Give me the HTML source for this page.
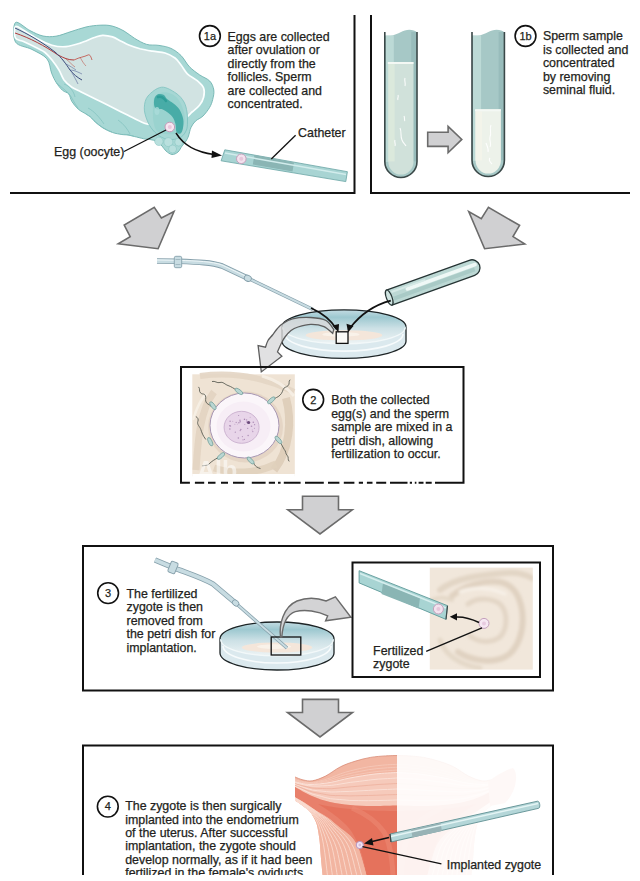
<!DOCTYPE html>
<html><head><meta charset="utf-8"><style>
html,body{margin:0;padding:0;background:#fff;width:640px;height:881px;overflow:hidden}
svg{position:absolute;left:0;top:0;display:block}
text{font-family:"Liberation Sans",sans-serif;font-size:12.4px;fill:#231f20;stroke:#231f20;stroke-width:0.25px}
.num{font-size:11px}
</style></head><body>
<svg width="640" height="881" viewBox="0 0 640 881">
<defs>
</defs>
<!-- ILLUSTRATIONS -->
<g id="ill">
<path d="M15.5 22.5C17.9 20.6 25.4 28.4 30.0 30.6C34.6 32.9 38.7 35.1 43.0 36.0C47.3 36.9 51.3 36.9 56.0 36.2C60.7 35.5 66.0 33.1 71.0 31.6C76.0 30.1 81.2 28.1 86.0 27.0C90.8 25.9 95.7 25.4 100.0 25.2C104.3 25.0 108.0 25.0 112.0 26.0C116.0 27.0 120.2 28.9 124.0 31.0C127.8 33.0 130.7 36.1 134.5 38.3C138.3 40.5 142.6 43.2 146.7 44.4C150.8 45.6 154.9 44.7 159.0 45.4C163.1 46.1 167.3 46.7 171.0 48.4C174.7 50.1 177.9 52.5 181.0 55.5C184.1 58.5 186.3 63.5 189.4 66.7C192.5 69.9 196.1 72.4 199.5 74.8C202.9 77.2 207.3 78.5 209.7 81.0C212.1 83.5 213.3 86.9 213.8 90.0C214.3 93.1 213.4 96.6 212.7 99.5C212.0 102.4 211.3 104.5 209.7 107.3C208.1 110.0 205.3 113.7 203.0 116.0C200.7 118.3 197.6 119.1 195.6 121.0C193.6 122.9 192.2 125.0 191.0 127.5C189.8 130.0 189.3 133.8 188.5 136.0C187.7 138.2 187.1 139.3 186.0 141.0C184.9 142.7 183.3 144.2 182.0 146.0C180.7 147.8 179.7 150.6 178.0 152.0C176.3 153.4 174.0 154.7 172.0 154.5C170.0 154.3 167.7 152.4 166.0 151.0C164.3 149.6 163.5 147.6 162.0 146.0C160.5 144.4 159.0 142.6 157.0 141.5C155.0 140.4 152.2 140.0 150.0 139.5C147.8 139.0 146.3 139.2 143.8 138.8C141.2 138.2 137.0 137.1 134.4 136.5C131.8 135.9 130.1 135.3 128.0 135.0C125.9 134.7 124.5 134.9 121.9 134.5C119.3 134.1 115.7 133.6 112.5 132.5C109.3 131.4 105.9 129.8 103.0 128.0C100.1 126.2 97.4 123.8 95.3 122.0C93.2 120.2 92.1 118.3 90.6 117.0C89.0 115.7 88.1 115.3 86.0 114.0C83.9 112.7 80.4 111.1 78.1 109.0C75.8 106.9 73.5 104.0 71.9 101.5C70.3 99.0 70.3 95.9 68.8 94.0C67.2 92.1 64.6 92.2 62.5 90.3C60.4 88.4 58.1 85.4 56.2 82.5C54.4 79.6 53.2 77.1 51.6 73.1C50.0 69.1 50.2 62.7 46.9 58.8C43.6 54.8 37.1 52.2 31.9 49.4C26.7 46.6 18.2 46.5 15.5 42.0C12.8 37.5 13.1 24.4 15.5 22.5Z" fill="#a8d8d5" stroke="#6fb3b0" stroke-width="0.9"/>
<path d="M56 82.5 C60 86 64 89 68.7 93.5" fill="none" stroke="#7fc0bd" stroke-width="0.7"/>
<path d="M68.7 93.5 C72 97 74 103 78 108" fill="none" stroke="#7fc0bd" stroke-width="0.7"/>
<path d="M86 114 C89 116 92 118 95.3 122" fill="none" stroke="#7fc0bd" stroke-width="0.7"/>
<path d="M95.3 122 C99 125 104 129 112 132" fill="none" stroke="#7fc0bd" stroke-width="0.7"/>
<path d="M121.9 134.5 C126 134 130 135 134.4 136.5" fill="none" stroke="#7fc0bd" stroke-width="0.7"/>
<path d="M64 84 C70 86 74 92 75 97" fill="none" stroke="#7fc0bd" stroke-width="0.7"/>
<path d="M88 108 C94 111 100 118 104 124" fill="none" stroke="#7fc0bd" stroke-width="0.7"/>
<path d="M118 120 C124 124 128 130 130 134" fill="none" stroke="#7fc0bd" stroke-width="0.7"/>
<path d="M15.5 26.5C16.9 25.2 20.2 28.4 24.0 30.5C27.8 32.6 33.3 36.5 38.0 39.0C42.7 41.5 47.3 43.9 52.0 45.2C56.7 46.5 61.3 47.0 66.0 46.6C70.7 46.2 75.6 44.6 80.3 43.1C85.0 41.6 90.7 38.8 94.4 37.5C98.1 36.2 99.5 35.4 102.5 35.3C105.5 35.2 109.4 35.9 112.5 36.9C115.6 37.9 118.5 39.9 121.2 41.2C124.0 42.6 125.6 43.8 128.8 45.0C131.9 46.2 136.0 47.7 140.0 48.8C144.0 49.8 148.3 50.5 152.5 51.2C156.7 52.0 161.2 51.9 165.0 53.0C168.8 54.1 172.3 56.0 175.0 58.0C177.7 60.0 178.9 62.4 181.0 65.0C183.1 67.6 184.6 71.1 187.3 73.8C190.1 76.5 194.8 78.5 197.5 80.9C200.2 83.3 202.6 85.3 203.6 88.0C204.6 90.7 204.3 94.3 203.6 97.2C202.9 100.1 201.4 102.8 199.5 105.3C197.6 107.8 194.4 109.9 192.0 112.0C189.6 114.1 188.7 116.3 185.0 118.0C181.3 119.7 175.5 120.9 170.0 122.0C164.5 123.1 156.4 124.3 152.0 124.5C147.6 124.7 147.8 124.5 143.8 123.0C139.8 121.5 133.2 117.9 128.0 115.3C122.8 112.7 117.7 110.1 112.5 107.5C107.3 104.9 102.1 102.3 96.9 99.7C91.7 97.1 85.4 94.0 81.2 91.9C77.1 89.8 74.8 89.2 71.9 87.2C69.0 85.2 66.2 82.9 64.0 80.0C61.9 77.1 61.0 73.3 59.0 70.0C57.0 66.7 54.3 62.9 52.0 60.0C49.7 57.1 47.3 54.4 45.0 52.5C42.7 50.6 41.5 50.3 38.0 48.5C34.5 46.7 27.8 43.4 24.0 41.7C20.2 40.0 16.9 40.7 15.5 38.2C14.1 35.7 14.1 27.8 15.5 26.5Z" fill="#d1e3e2" stroke="#fbffff" stroke-width="1.7"/>
<path d="M161.5 87.2C166.2 86.7 172.2 90.7 176.0 93.2C179.8 95.7 182.2 98.9 184.0 102.0C185.8 105.1 186.4 108.7 187.0 112.0C187.6 115.3 187.6 119.0 187.5 122.0C187.4 125.0 187.5 127.6 186.4 130.1C185.3 132.6 183.6 135.4 181.2 137.0C178.8 138.6 175.2 139.4 172.0 139.5C168.8 139.6 165.2 139.1 162.0 137.5C158.8 135.9 155.4 133.0 152.9 130.1C150.4 127.2 148.4 123.7 147.0 120.0C145.6 116.3 144.1 111.8 144.3 107.8C144.5 103.8 145.1 99.4 148.0 96.0C150.9 92.6 156.8 87.7 161.5 87.2Z" fill="#a6d7d4" stroke="#7dc2bf" stroke-width="0.8"/>
<path d="M165.8 92.3C168.6 92.6 172.5 94.0 175.0 96.0C177.5 98.0 179.4 100.6 181.0 104.0C182.6 107.4 184.4 112.6 184.7 116.4C185.0 120.2 184.4 124.2 183.0 127.0C181.6 129.8 178.8 132.3 176.0 133.5C173.2 134.7 169.2 134.4 166.0 134.0C162.8 133.6 159.1 133.0 157.0 131.0C154.9 129.0 154.2 125.5 153.5 122.0C152.8 118.5 152.9 113.7 152.9 110.0C152.9 106.3 152.7 102.7 153.5 100.0C154.3 97.3 155.9 95.3 158.0 94.0C160.1 92.7 163.0 92.0 165.8 92.3Z" fill="#9ad3cf"/>
<path d="M157.5 94.5C159.0 93.8 161.9 94.0 163.5 94.8C165.1 95.5 165.3 97.5 167.0 99.0C168.7 100.5 171.4 101.8 173.5 103.5C175.6 105.2 177.9 106.9 179.5 109.5C181.1 112.1 182.6 115.9 183.2 119.0C183.8 122.1 183.4 125.6 183.0 128.0C182.6 130.4 181.6 132.8 180.5 133.5C179.4 134.2 177.3 133.6 176.5 132.0C175.7 130.4 176.2 126.5 175.5 124.0C174.8 121.5 173.9 119.0 172.5 117.0C171.1 115.0 168.8 113.3 167.0 112.0C165.2 110.7 163.2 109.4 161.5 109.0C159.8 108.6 158.2 110.0 157.0 109.5C155.8 109.0 154.8 107.8 154.3 106.0C153.9 104.2 153.8 100.9 154.3 99.0C154.8 97.1 156.0 95.2 157.5 94.5Z" fill="#48aca7"/>
<path d="M158 97 C161 96 164 98 166 101" fill="none" stroke="#2f9e98" stroke-width="2.5" stroke-linecap="round"/>
<ellipse cx="157" cy="111" rx="2.5" ry="4" fill="#aadcd9" opacity="0.8"/>
<circle cx="158.9" cy="141.3" r="4.2" fill="#b9e0de" stroke="#8cc6c3" stroke-width="0.6"/>
<circle cx="168.4" cy="142.1" r="4.5" fill="#b9e0de" stroke="#8cc6c3" stroke-width="0.6"/>
<circle cx="178.7" cy="142.1" r="4" fill="#b9e0de" stroke="#8cc6c3" stroke-width="0.6"/>
<circle cx="172.6" cy="149" r="4" fill="#b9e0de" stroke="#8cc6c3" stroke-width="0.6"/>
<path d="M15 33 C30 38 45 46 58 55 C64 58 68 60 74 60" fill="none" stroke="#b03a3a" stroke-width="1"/>
<path d="M74 60 C80 57 84 57 88 55 C90 54 91 57 92 60" fill="none" stroke="#c04a40" stroke-width="0.8"/>
<path d="M80 57 C82 61 84 64 86 66 M66 59 C70 62 72 65 75 67" fill="none" stroke="#c05a50" stroke-width="0.6"/>
<path d="M15 28 C28 34 42 42 55 52 C62 58 66 64 70 70 C73 74 78 78 82 80" fill="none" stroke="#3a4a7a" stroke-width="1"/>
<path d="M70 70 C74 70 78 72 82 74 M72 73 C74 76 76 80 78 84 M66 64 C70 66 73 68 76 70" fill="none" stroke="#5a6a9a" stroke-width="0.6"/>
<circle cx="169.8" cy="127" r="4.8" fill="#f7e6f0" stroke="#c49ab8" stroke-width="1"/>
<circle cx="169.8" cy="127" r="2" fill="#ecc6dc"/>
<path d="M124 151.5L166 130" stroke="#111" stroke-width="1.3" fill="none"/>
<path d="M176 133 C184 146 196 152 214 154.5" stroke="#111" stroke-width="1.5" fill="none"/>
<path d="M212 150.5L222 155.5L211.5 158Z" fill="#111"/>
<path d="M224.8 149.8L347.4 171.7L345.8 181.6L221.1 160.8Z" fill="#a8d4d3" stroke="#6aa5a5" stroke-width="0.8"/>
<path d="M254.4 155L294 162.5L292.5 171.5L252.8 164.5Z" fill="#8ab5b4"/>
<path d="M225 153L346 174.5" stroke="#d2ecec" stroke-width="1.5"/>
<circle cx="241.3" cy="158.8" r="4.8" fill="#f3e2ee" stroke="#c4a0bc" stroke-width="1"/>
<circle cx="241.3" cy="158.8" r="2" fill="#e6c6da"/>
<path d="M295.6 135.3L271.3 159" stroke="#111" stroke-width="1.3"/>
<path d="M384.8 35.5 C392.9 37.0 397.7 33.0 404.8 30.4 C410.6 29.0 415.0 30.5 417.0 32.5 V161.4 A16.1 16.1 0 0 1 384.8 161.4 Z" fill="#a6c8c6"/>
<rect x="385.8" y="35.5" width="8.0" height="126.4" fill="#bcdad6"/>
<rect x="411.2" y="32.0" width="4.8" height="129.4" fill="#98bcbb"/>
<path d="M388.3 62.0 V161.4 A12.6 13.2 0 0 0 413.5 161.4 V62.0 Z" fill="#d0e1da"/>
<rect x="388.3" y="64.0" width="6.4" height="97.4" fill="#dbe9dc"/>
<path d="M387.8 63.0 H413.5" stroke="#f4f8f4" stroke-width="2"/>
<path d="M384.8 32.0 V161.4 A16.1 16.1 0 0 0 417.0 161.4 V32.0" fill="none" stroke="#3a4848" stroke-width="1.6"/>
<path d="M472.0 35.5 C480.1 37.0 485.0 33.0 492.1 30.4 C497.9 29.0 502.4 30.5 504.4 32.5 V160.3 A16.2 16.2 0 0 1 472.0 160.3 Z" fill="#a6c8c6"/>
<rect x="473.0" y="35.5" width="8.1" height="125.3" fill="#bcdad6"/>
<rect x="498.6" y="32.0" width="4.8" height="128.3" fill="#98bcbb"/>
<path d="M475.5 109.3 V160.3 A12.7 13.3 0 0 0 500.9 160.3 V109.3 Z" fill="#edf2ea"/>
<rect x="475.5" y="111.3" width="6.5" height="49.0" fill="#f3f4ea"/>
<path d="M475.0 110.3 H500.9" stroke="#f4f8f4" stroke-width="2"/>
<path d="M472.0 32.0 V160.3 A16.2 16.2 0 0 0 504.4 160.3 V32.0" fill="none" stroke="#3a4848" stroke-width="1.6"/>
<path d="M405 78c-1 3 1 5 0 8" fill="none" stroke="#ffffff" stroke-width="1.1" opacity="0.9"/>
<path d="M398 95c1 2-1 3 0 5" fill="none" stroke="#ffffff" stroke-width="1.1" opacity="0.9"/>
<path d="M400 128c2 4 0 8 2 12c1 3 3 4 4 6" fill="none" stroke="#ffffff" stroke-width="1.1" opacity="0.9"/>
<path d="M404 116c1 2 0 4 1 5" fill="none" stroke="#ffffff" stroke-width="1.1" opacity="0.9"/>
<path d="M395 140c-1 2 1 4 0 6" fill="none" stroke="#ffffff" stroke-width="1.1" opacity="0.9"/>
<path d="M491 125c-2 4 1 8-1 12c-1 4 2 7 0 10" fill="none" stroke="#ffffff" stroke-width="1.1" opacity="0.9"/>
<path d="M486 143c1 3 3 6 2 9" fill="none" stroke="#ffffff" stroke-width="1.1" opacity="0.9"/>
<path d="M490 158c-2 2 0 4 2 6" fill="none" stroke="#ffffff" stroke-width="1.1" opacity="0.9"/>
<path d="M157 261 L178 261.3 C198 262 212 262.5 222 266 L247.5 278" fill="none" stroke="#86a0ab" stroke-width="5.6" stroke-linejoin="round"/>
<path d="M157 261 L178 261.3 C198 262 212 262.5 222 266 L247.5 278" fill="none" stroke="#c8dce2" stroke-width="3.8" stroke-linejoin="round"/>
<path d="M247.5 278 L313 309.5" fill="none" stroke="#86a0ab" stroke-width="3.6"/>
<path d="M247.5 278 L313 309.5" fill="none" stroke="#c8dce2" stroke-width="2"/>
<path d="M157 260 L178 260.3 C198 261 212 261.5 222 265 L247.5 277" fill="none" stroke="#eef6f8" stroke-width="1"/>
<rect x="174.3" y="256.3" width="7.4" height="11.4" rx="1.5" fill="#c8dce2" stroke="#86a0ab" stroke-width="0.9"/>
<path d="M175.5 259.5H180.5M175.5 264.5H180.5" stroke="#93aab5" stroke-width="0.7"/>
<ellipse cx="247.8" cy="278.3" rx="3.6" ry="3" transform="rotate(25 247.8 278.3)" fill="#c8dce2" stroke="#86a0ab" stroke-width="0.9"/>
<defs><linearGradient id="dg1" x1="0" y1="0" x2="0" y2="1"><stop offset="0" stop-color="#c4dce3"/><stop offset="0.22" stop-color="#9dc8d0"/><stop offset="0.55" stop-color="#cde1e6"/><stop offset="1" stop-color="#eef4f5"/></linearGradient></defs>
<path d="M282.0 326.8 A62.0 17.0 0 0 0 406.0 326.8 V341.3 A62.0 17.0 0 0 1 282.0 341.3 Z" fill="#dbe9ee"/>
<path d="M282.0 326.8 V341.3 A62.0 17.0 0 0 0 406.0 341.3 V326.8" fill="none" stroke="#1d2426" stroke-width="1.3"/>
<path d="M285.0 334.1 A59.0 17.0 0 0 0 403.0 334.1" fill="none" stroke="#f7fbfc" stroke-width="1.6"/>
<ellipse cx="344.0" cy="326.8" rx="62.0" ry="17.0" fill="url(#dg1)"/>
<ellipse cx="344.0" cy="335.3" rx="38.4" ry="5.1" fill="#f4e6da"/>
<ellipse cx="340.9" cy="334.4" rx="18.6" ry="2.4" fill="#fbf6f0" opacity="0.7"/>
<path d="M283.0 327.8 A61.0 16.0 0 0 0 405.0 327.8" fill="none" stroke="#f2f8f9" stroke-width="1.2"/>
<path d="M282.0 326.8 A62.0 17.0 0 0 1 406.0 326.8" fill="none" stroke="#1d2426" stroke-width="1.3"/>
<rect x="336.2" y="331.8" width="11.8" height="11.6" fill="#fbfaf7" stroke="#111" stroke-width="1.3"/>
<g transform="translate(389.2 297.6) rotate(-19.8)"><path d="M0 -8 H88 A8 8 0 0 1 88 8 H0 Z" fill="#bcd8d4" stroke="#263434" stroke-width="1.3"/><path d="M4 2.5 H90" stroke="#a7c9c5" stroke-width="4" opacity="0.9"/><path d="M20 -2 H92" stroke="#f2faf8" stroke-width="3.6" stroke-linecap="round" opacity="0.95"/><path d="M4 -4.5 H40" stroke="#d8ebe8" stroke-width="2" opacity="0.9"/><ellipse cx="0" cy="0" rx="2.8" ry="8" fill="#cfe4e1" stroke="#263434" stroke-width="1.2"/></g>
<path d="M311 308 C322 313 331 320 336.5 329" fill="none" stroke="#111" stroke-width="1.8"/>
<path d="M332.5 325.5L338.5 332.5L339 324Z" fill="#111"/>
<path d="M390.8 300.6 C374 305 360 315 350 328" fill="none" stroke="#111" stroke-width="1.8"/>
<path d="M346.5 323.8L348 332.5L353.5 326Z" fill="#111"/>
<path d="M333.8 329.5 C332.5 328.0 329.8 322.5 326.0 320.5C322.2 318.5 316.4 317.8 310.8 317.5C305.2 317.2 297.2 317.7 292.5 318.8C287.8 319.8 285.1 322.0 282.5 323.8C279.9 325.5 278.7 327.1 277.0 329.0C275.3 330.9 274.0 333.1 272.5 335.0C271.0 336.9 269.2 338.5 268.0 340.5C266.8 342.5 265.9 346.1 265.5 347.2 L258.1 345.6 L261.3 371.9 L281.9 356.3 L277.5 351.9 C278.1 350.6 279.8 346.5 281.0 344.0C282.2 341.5 283.3 339.2 285.0 337.0C286.7 334.8 288.8 332.2 291.0 330.5C293.2 328.8 294.7 328.0 298.0 327.0C301.3 326.0 306.5 324.5 310.8 324.4C315.1 324.3 320.4 325.1 324.0 326.6C327.6 328.1 331.2 332.4 332.7 333.5 Z" fill="#d9d9db" fill-opacity="0.8" stroke="#5d5d5d" stroke-width="1.3" stroke-linejoin="miter"/>
<rect x="192.3" y="374.3" width="102.5" height="102" fill="#efe3d4"/>
<path d="M200 376 C230 372 262 376 294 392" fill="none" stroke="#e3d5c4" stroke-width="6" opacity="0.9"/>
<path d="M196 470 C198 440 200 410 214 392" fill="none" stroke="#e2d3c1" stroke-width="7" opacity="0.9"/>
<path d="M286 398 C292 420 290 450 274 470" fill="none" stroke="#ddccb8" stroke-width="8" opacity="0.9"/>
<path d="M214 468 C232 474 256 474 276 464" fill="none" stroke="#e0d0bd" stroke-width="7" opacity="0.9"/>
<path d="M262 376 C276 380 286 386 294 396" fill="none" stroke="#f6efe6" stroke-width="3" opacity="0.9"/>
<path d="M193 420 C196 410 200 400 206 394" fill="none" stroke="#f6efe6" stroke-width="2.5" opacity="0.9"/>
<ellipse cx="245.5" cy="427" rx="37.5" ry="35.5" fill="#dccbb8" opacity="0.55"/>
<ellipse cx="244.5" cy="425.5" rx="34.5" ry="32.5" fill="#fbf6fa" stroke="#a796b3" stroke-width="1"/>
<ellipse cx="243.5" cy="426.5" rx="27" ry="25" fill="#f7eef6"/>
<ellipse cx="241.6" cy="427.3" rx="17.5" ry="16" fill="#e8d5e9" stroke="#c4a8c9" stroke-width="0.8"/>
<circle cx="242.4" cy="436.6" r="0.58" fill="#9d7aa8" opacity="0.75"/>
<circle cx="232.8" cy="421.2" r="0.47" fill="#9d7aa8" opacity="0.75"/>
<circle cx="254.4" cy="428.3" r="0.54" fill="#9d7aa8" opacity="0.75"/>
<circle cx="243.0" cy="439.8" r="0.61" fill="#9d7aa8" opacity="0.75"/>
<circle cx="246.6" cy="419.9" r="0.67" fill="#9d7aa8" opacity="0.75"/>
<circle cx="248.1" cy="435.4" r="0.75" fill="#9d7aa8" opacity="0.75"/>
<circle cx="229.7" cy="425.7" r="0.68" fill="#9d7aa8" opacity="0.75"/>
<circle cx="252.8" cy="431.6" r="0.66" fill="#9d7aa8" opacity="0.75"/>
<circle cx="240.8" cy="429.4" r="0.75" fill="#9d7aa8" opacity="0.75"/>
<circle cx="229.9" cy="429.1" r="0.76" fill="#9d7aa8" opacity="0.75"/>
<circle cx="238.6" cy="415.5" r="0.59" fill="#9d7aa8" opacity="0.75"/>
<circle cx="244.5" cy="419.3" r="0.78" fill="#9d7aa8" opacity="0.75"/>
<circle cx="244.8" cy="424.6" r="0.50" fill="#9d7aa8" opacity="0.75"/>
<circle cx="244.4" cy="439.4" r="0.60" fill="#9d7aa8" opacity="0.75"/>
<circle cx="236.2" cy="422.4" r="0.63" fill="#9d7aa8" opacity="0.75"/>
<circle cx="235.3" cy="432.2" r="0.65" fill="#9d7aa8" opacity="0.75"/>
<circle cx="230.1" cy="421.2" r="0.69" fill="#9d7aa8" opacity="0.75"/>
<circle cx="253.3" cy="422.3" r="0.80" fill="#9d7aa8" opacity="0.75"/>
<circle cx="238.9" cy="422.8" r="0.75" fill="#9d7aa8" opacity="0.75"/>
<circle cx="254.6" cy="424.7" r="0.65" fill="#9d7aa8" opacity="0.75"/>
<circle cx="240.2" cy="421.7" r="0.74" fill="#9d7aa8" opacity="0.75"/>
<circle cx="234.9" cy="424.3" r="0.47" fill="#9d7aa8" opacity="0.75"/>
<circle cx="250.1" cy="417.3" r="0.48" fill="#9d7aa8" opacity="0.75"/>
<circle cx="244.4" cy="419.6" r="0.50" fill="#9d7aa8" opacity="0.75"/>
<circle cx="238.3" cy="437.9" r="0.76" fill="#9d7aa8" opacity="0.75"/>
<circle cx="252.2" cy="430.0" r="0.47" fill="#9d7aa8" opacity="0.75"/>
<circle cx="240.0" cy="420.2" r="0.76" fill="#9d7aa8" opacity="0.75"/>
<circle cx="251.5" cy="426.2" r="0.80" fill="#9d7aa8" opacity="0.75"/>
<circle cx="240.2" cy="430.6" r="0.66" fill="#9d7aa8" opacity="0.75"/>
<circle cx="247.7" cy="428.4" r="0.59" fill="#9d7aa8" opacity="0.75"/>
<circle cx="237.3" cy="424.1" r="0.46" fill="#9d7aa8" opacity="0.75"/>
<circle cx="246.9" cy="422.1" r="0.79" fill="#9d7aa8" opacity="0.75"/>
<circle cx="248.5" cy="422.6" r="0.61" fill="#9d7aa8" opacity="0.75"/>
<circle cx="230.5" cy="426.0" r="0.66" fill="#9d7aa8" opacity="0.75"/>
<circle cx="248.6" cy="422.5" r="1.6" fill="#6b4a7a"/>
<path d="M212 381.5 c3 -1 5 2 8 1 c3 -1 5 2 8 3 c3 1 6 3 9 5" fill="none" stroke="#5b5d55" stroke-width="0.9"/>
<path d="M198.5 386.9 c2 2 0 4 2 6 c2 2 4 0 5 3 c1 3 -1 4 1 7 c2 2 4 2 5 4" fill="none" stroke="#5b5d55" stroke-width="0.9"/>
<path d="M290.1 379.7 c-2 2 0 4 -2 6 c-2 2 -4 1 -5 4 c-1 3 -2 5 -5 7 c-2 1 -4 2 -6 4" fill="none" stroke="#5b5d55" stroke-width="0.9"/>
<path d="M195.8 416.5 c2 1 3 3 2 5 c-1 3 2 5 3 8 c1 3 2 6 5 10" fill="none" stroke="#5b5d55" stroke-width="0.9"/>
<path d="M202 466 c3 -1 5 0 7 -2 c3 -3 5 -4 10 -7" fill="none" stroke="#5b5d55" stroke-width="0.9"/>
<path d="M260.5 468.6 c-3 -1 -5 -2 -6 -4 c-1 -2 -2 -3 -4 -4" fill="none" stroke="#5b5d55" stroke-width="0.9"/>
<path d="M289.2 461.4 c-2 -2 0 -4 -2 -6 c-2 -2 -1 -4 -3 -6 c-2 -3 -3 -6 -5 -9" fill="none" stroke="#5b5d55" stroke-width="0.9"/>
<ellipse cx="238.9" cy="391.4" rx="4.6" ry="1.9" transform="rotate(35.0 238.9 391.4)" fill="#b9d6d2" stroke="#6f9d99" stroke-width="0.7"/>
<ellipse cx="212.9" cy="405.7" rx="4.6" ry="1.9" transform="rotate(55.0 212.9 405.7)" fill="#b9d6d2" stroke="#6f9d99" stroke-width="0.7"/>
<ellipse cx="271.3" cy="400.3" rx="4.6" ry="1.9" transform="rotate(140.0 271.3 400.3)" fill="#b9d6d2" stroke="#6f9d99" stroke-width="0.7"/>
<ellipse cx="210.2" cy="441.7" rx="4.6" ry="1.9" transform="rotate(65.0 210.2 441.7)" fill="#b9d6d2" stroke="#6f9d99" stroke-width="0.7"/>
<ellipse cx="221.0" cy="456.0" rx="4.6" ry="1.9" transform="rotate(-40.0 221.0 456.0)" fill="#b9d6d2" stroke="#6f9d99" stroke-width="0.7"/>
<ellipse cx="250.6" cy="460.5" rx="4.6" ry="1.9" transform="rotate(-135.0 250.6 460.5)" fill="#b9d6d2" stroke="#6f9d99" stroke-width="0.7"/>
<ellipse cx="278.4" cy="439.9" rx="4.6" ry="1.9" transform="rotate(50.0 278.4 439.9)" fill="#b9d6d2" stroke="#6f9d99" stroke-width="0.7"/>
<rect x="192.3" y="474" width="102.5" height="3" fill="#ffffff"/>
<text x="197" y="479" style="font-size:25px;font-weight:bold;fill:#ffffff;stroke:none;opacity:0.55">Alb</text>
<defs><linearGradient id="dg2" x1="0" y1="0" x2="0" y2="1"><stop offset="0" stop-color="#c4dce3"/><stop offset="0.22" stop-color="#9dc8d0"/><stop offset="0.55" stop-color="#cde1e6"/><stop offset="1" stop-color="#eef4f5"/></linearGradient></defs>
<path d="M220.0 639.0 A57.0 17.0 0 0 0 334.0 639.0 V653.0 A57.0 17.0 0 0 1 220.0 653.0 Z" fill="#dbe9ee"/>
<path d="M220.0 639.0 V653.0 A57.0 17.0 0 0 0 334.0 653.0 V639.0" fill="none" stroke="#1d2426" stroke-width="1.3"/>
<path d="M223.0 646.0 A54.0 17.0 0 0 0 331.0 646.0" fill="none" stroke="#f7fbfc" stroke-width="1.6"/>
<ellipse cx="277.0" cy="639.0" rx="57.0" ry="17.0" fill="url(#dg2)"/>
<ellipse cx="277.0" cy="647.5" rx="35.3" ry="5.1" fill="#f4e6da"/>
<ellipse cx="274.1" cy="646.6" rx="17.1" ry="2.4" fill="#fbf6f0" opacity="0.7"/>
<path d="M221.0 640.0 A56.0 16.0 0 0 0 333.0 640.0" fill="none" stroke="#f2f8f9" stroke-width="1.2"/>
<path d="M220.0 639.0 A57.0 17.0 0 0 1 334.0 639.0" fill="none" stroke="#1d2426" stroke-width="1.3"/>
<path d="M155 560 L173 567.5 C190 574 203 578 213 584 L235.5 603" fill="none" stroke="#86a0ab" stroke-width="5.4" stroke-linejoin="round"/>
<path d="M155 560 L173 567.5 C190 574 203 578 213 584 L235.5 603" fill="none" stroke="#c8dce2" stroke-width="3.6" stroke-linejoin="round"/>
<path d="M235.5 603 L287 648" fill="none" stroke="#86a0ab" stroke-width="3.4"/>
<path d="M235.5 603 L287 648" fill="none" stroke="#c8dce2" stroke-width="1.9"/>
<rect x="-3.7" y="-5.7" width="7.4" height="11.4" rx="1.5" transform="translate(173 567.5) rotate(22)" fill="#c8dce2" stroke="#86a0ab" stroke-width="0.9"/>
<ellipse cx="235.6" cy="603" rx="3.6" ry="2.8" transform="rotate(40 235.6 603)" fill="#c8dce2" stroke="#86a0ab" stroke-width="0.9"/>
<rect x="271.2" y="637" width="29.6" height="18" fill="none" stroke="#111" stroke-width="1.3"/>
<path d="M280.5 637 C279 625 283 607 297 601 C307 597 318 598 326.2 601 L335.4 596.9 L350.9 617.3 L325.6 620.8 L327.7 615.9 C318 611 305 609 295.3 611.6 C288 614 283 621 281.8 637 Z" fill="#d3d3d5" stroke="#6b6b6b" stroke-width="1.4"/>
<rect x="429.8" y="567.6" width="103" height="102" fill="#f1e7db"/>
<defs><filter id="bl2" x="-10%" y="-10%" width="120%" height="120%"><feGaussianBlur stdDeviation="1.6"/></filter><clipPath id="bx3c"><rect x="429.8" y="567.6" width="103" height="102"/></clipPath></defs>
<g clip-path="url(#bx3c)"><g filter="url(#bl2)" fill="none" stroke-linecap="round"><path d="M440 590 C455 578 480 575 505 573 C515 572 525 574 532 578" stroke="#e2d5c5" stroke-width="6"/><path d="M452 596 C465 585 485 580 500 582 C515 585 520 598 522 610 C525 630 518 650 505 657 C490 664 470 660 458 652" stroke="#e0d2c1" stroke-width="6"/><path d="M468 604 C478 597 492 598 500 604 C508 612 508 628 500 637 C490 644 478 642 470 636" stroke="#e3d6c6" stroke-width="5"/><path d="M440 640 C445 655 460 665 480 668" stroke="#e4d8c8" stroke-width="5"/><path d="M432 600 C440 596 446 598 452 600" stroke="#e4d8c8" stroke-width="4"/><path d="M460 592 C475 586 492 588 505 594" stroke="#f8f2ea" stroke-width="3"/></g></g>
<path d="M359.1 570.7 L447.5 605.7 L446 619.4 L359.1 582.9 Z" fill="#a8d4d3" stroke="#5f9a9a" stroke-width="0.9"/>
<path d="M383 583 L420 598 L418.5 608.5 L381.5 594 Z" fill="#8ab5b4"/>
<path d="M360 573.5 L446 608" stroke="#d6eeee" stroke-width="1.5"/>
<path d="M447.5 605.7 L446 619.4" stroke="#3e4848" stroke-width="1.2"/>
<circle cx="438.4" cy="609" r="5" fill="#f3e2ee" stroke="#c4a0bc" stroke-width="1"/>
<circle cx="438.4" cy="609" r="2" fill="#e6c6da"/>
<circle cx="484" cy="623.4" r="5" fill="#f6e8f2" stroke="#c4a0bc" stroke-width="1"/>
<circle cx="484" cy="623.4" r="2" fill="#e8cbe0"/>
<path d="M479 622.5 C470 618 462 616.5 455 617" fill="none" stroke="#111" stroke-width="1.5"/>
<path d="M457 613.3L449.8 616.8L457 620.5Z" fill="#111"/>
<path d="M482 627.8 L426.2 651.4" stroke="#111" stroke-width="1.3"/>
<defs><clipPath id="ucl"><rect x="293" y="750" width="104" height="125.5"/></clipPath><clipPath id="ucr"><rect x="397" y="750" width="143" height="125.5"/></clipPath></defs>
<g clip-path="url(#ucl)"><path d="M295.1 777 C296.4 777.5 300.1 779.3 303.0 779.9C305.9 780.5 308.6 781.4 312.4 780.8C316.1 780.2 320.8 778.4 325.5 776.1C330.2 773.8 335.5 769.2 340.5 766.8C345.5 764.2 350.5 762.7 355.5 761.1C360.5 759.5 365.5 758.3 370.5 757.4C375.5 756.5 381.1 756.2 385.5 755.9C389.9 755.6 395.1 755.6 397.0 755.5 L397 876 L322.7 876 C322.4 872.7 321.3 862.2 320.8 856.2C320.3 850.2 320.1 844.9 319.5 840.0C318.9 835.1 318.1 830.2 317.4 826.9C316.6 823.6 316.2 822.5 315.0 820.0C313.8 817.5 312.0 814.3 310.0 812.0C308.0 809.7 305.5 807.9 303.0 806.0C300.5 804.1 296.3 801.5 295.0 800.6 L295.1 777 Z" fill="#f2b6a2"/>
<path d="M295 782 C297.5 782.4 304.2 784.4 310.0 784.5C315.8 784.6 323.3 783.6 330.0 782.5C336.7 781.4 342.5 779.4 350.0 778.0C357.5 776.6 367.2 774.9 375.0 774.0C382.8 773.1 393.3 772.8 397.0 772.5 L397 805.5 C392.8 805.6 379.8 806.1 372.0 806.0C364.2 805.9 357.0 805.7 350.0 805.0C343.0 804.3 336.3 803.5 330.0 802.0C323.7 800.5 317.8 798.5 312.0 796.0C306.2 793.5 297.8 788.5 295.0 787.0 Z" fill="#f6cabb"/>
<path d="M295 787 C297.8 788.5 306.2 793.5 312.0 796.0C317.8 798.5 323.7 800.5 330.0 802.0C336.3 803.5 343.0 804.3 350.0 805.0C357.0 805.7 364.2 805.9 372.0 806.0C379.8 806.1 392.8 805.6 397.0 805.5 L397 876 L366.75 876 C365.8 872.7 362.7 861.4 361.1 856.2C359.5 851.1 358.9 848.4 357.0 845.0C355.1 841.6 353.0 838.6 350.0 835.6C347.0 832.6 342.8 829.9 339.2 827.0C335.6 824.1 331.9 820.6 328.3 818.0C324.7 815.4 321.0 813.9 317.4 811.6C313.8 809.3 310.1 806.4 306.4 804.0C302.7 801.6 296.9 798.4 295.0 797.3 L295 787 Z" fill="#e8806b"/>
<path d="M318 804 C335 808 360 811 397 811 L397 876 L366.75 876 C365 866 363 858 361 852 C357 840 352 830 344 823 C337 816 328 810 318 804 Z" fill="#e5725c"/>
<path d="M352 808 C366 814 377 822 384 832 C389 841 392 855 393 876" fill="none" stroke="#ec8b75" stroke-width="5" opacity="0.55"/>
<path d="M295 797.3 C296.9 798.4 302.7 801.6 306.4 804.0C310.1 806.4 313.8 809.3 317.4 811.6C321.0 813.9 324.7 815.4 328.3 818.0C331.9 820.6 335.6 824.1 339.2 827.0C342.8 829.9 347.0 832.6 350.0 835.6C353.0 838.6 355.1 841.6 357.0 845.0C358.9 848.4 359.5 851.1 361.1 856.2C362.7 861.4 365.8 872.7 366.8 876.0 L322.7 876 C322.4 872.7 321.3 862.2 320.8 856.2C320.3 850.2 320.1 844.9 319.5 840.0C318.9 835.1 318.1 830.2 317.4 826.9C316.6 823.6 316.2 822.5 315.0 820.0C313.8 817.5 312.0 814.3 310.0 812.0C308.0 809.7 305.5 807.9 303.0 806.0C300.5 804.1 296.3 801.5 295.0 800.6 Z" fill="#f2b5a1"/>
<path d="M295.0 797.7C296.4 798.5 300.7 801.0 303.5 802.7C306.2 804.5 308.9 806.4 311.7 808.2C314.4 810.0 317.0 811.9 319.7 813.8C322.4 815.6 325.3 817.2 327.8 819.2C330.3 821.2 332.6 823.6 335.0 825.8C337.3 828.0 339.8 830.0 342.1 832.3C344.4 834.5 346.7 836.8 348.6 839.3C350.5 841.9 352.2 844.7 353.6 847.7C354.9 850.6 355.8 853.8 356.7 857.0C357.7 860.1 358.4 863.3 359.3 866.5C360.1 869.7 361.4 874.4 361.9 876.0" fill="none" stroke="#fbe0d6" stroke-width="0.75"/>
<path d="M295.0 798.0C296.4 798.9 300.5 801.3 303.2 803.0C305.9 804.7 308.5 806.6 311.1 808.4C313.7 810.2 316.3 812.1 318.8 814.0C321.3 815.9 324.0 817.6 326.3 819.6C328.6 821.7 330.7 824.1 332.8 826.3C335.0 828.5 337.2 830.6 339.2 832.9C341.3 835.2 343.3 837.5 345.0 840.1C346.7 842.6 348.3 845.4 349.5 848.3C350.7 851.2 351.4 854.4 352.3 857.4C353.2 860.5 353.9 863.6 354.6 866.7C355.4 869.8 356.6 874.5 357.0 876.0" fill="none" stroke="#fbe0d6" stroke-width="0.75"/>
<path d="M295.0 798.4C296.3 799.2 300.4 801.6 303.0 803.3C305.6 805.0 308.1 806.8 310.6 808.6C313.1 810.4 315.5 812.3 317.9 814.2C320.2 816.1 322.7 817.9 324.8 820.0C326.9 822.1 328.8 824.5 330.7 826.8C332.6 829.1 334.6 831.3 336.4 833.6C338.2 835.9 340.0 838.2 341.5 840.8C342.9 843.4 344.3 846.1 345.3 849.0C346.4 851.8 347.1 854.9 347.9 857.9C348.6 860.9 349.3 863.9 350.0 866.9C350.7 870.0 351.7 874.5 352.1 876.0" fill="none" stroke="#fbe0d6" stroke-width="0.75"/>
<path d="M295.0 798.8C296.3 799.6 300.2 801.9 302.7 803.5C305.2 805.2 307.7 807.0 310.1 808.8C312.4 810.6 314.7 812.5 316.9 814.5C319.2 816.4 321.4 818.3 323.3 820.4C325.3 822.6 326.9 825.0 328.6 827.3C330.3 829.6 331.9 831.9 333.5 834.2C335.0 836.6 336.6 839.0 337.9 841.5C339.2 844.1 340.3 846.8 341.2 849.6C342.1 852.4 342.7 855.4 343.4 858.3C344.1 861.3 344.7 864.2 345.3 867.2C345.9 870.1 346.9 874.5 347.2 876.0" fill="none" stroke="#fbe0d6" stroke-width="0.75"/>
<path d="M295.0 799.1C296.2 799.9 300.0 802.2 302.4 803.8C304.9 805.5 307.3 807.2 309.5 809.0C311.8 810.8 314.0 812.7 316.0 814.7C318.1 816.7 320.1 818.7 321.8 820.8C323.6 823.0 325.0 825.5 326.4 827.8C327.9 830.2 329.3 832.5 330.6 834.9C331.9 837.3 333.2 839.7 334.3 842.3C335.4 844.8 336.3 847.5 337.1 850.3C337.8 853.0 338.4 855.9 339.0 858.8C339.6 861.6 340.1 864.5 340.6 867.4C341.2 870.3 342.0 874.6 342.3 876.0" fill="none" stroke="#fbe0d6" stroke-width="0.75"/>
<path d="M295.0 799.5C296.2 800.3 299.8 802.5 302.2 804.1C304.5 805.7 306.9 807.4 309.0 809.2C311.2 811.0 313.2 812.9 315.1 814.9C317.0 817.0 318.8 819.0 320.3 821.2C321.9 823.5 323.1 826.0 324.3 828.4C325.5 830.7 326.7 833.1 327.7 835.6C328.8 838.0 329.8 840.4 330.7 843.0C331.6 845.6 332.3 848.2 332.9 850.9C333.6 853.7 334.0 856.5 334.5 859.3C335.0 862.0 335.5 864.8 336.0 867.6C336.4 870.4 337.1 874.6 337.4 876.0" fill="none" stroke="#fbe0d6" stroke-width="0.75"/>
<path d="M295.0 799.9C296.2 800.6 299.7 802.8 301.9 804.4C304.2 806.0 306.4 807.6 308.5 809.4C310.5 811.2 312.4 813.1 314.2 815.2C315.9 817.2 317.5 819.4 318.8 821.7C320.2 823.9 321.1 826.4 322.2 828.9C323.2 831.3 324.0 833.7 324.9 836.2C325.7 838.7 326.4 841.2 327.1 843.7C327.8 846.3 328.3 848.9 328.8 851.6C329.3 854.3 329.7 857.0 330.1 859.7C330.5 862.4 330.9 865.1 331.3 867.9C331.7 870.6 332.3 874.6 332.5 876.0" fill="none" stroke="#fbe0d6" stroke-width="0.75"/>
<path d="M295.0 800.2C296.1 801.0 299.5 803.1 301.7 804.6C303.8 806.2 306.0 807.8 307.9 809.6C309.9 811.4 311.7 813.3 313.2 815.4C314.8 817.5 316.2 819.7 317.3 822.1C318.5 824.4 319.2 826.9 320.0 829.4C320.8 831.9 321.4 834.4 322.0 836.9C322.6 839.4 323.1 841.9 323.5 844.5C324.0 847.0 324.3 849.6 324.7 852.3C325.0 854.9 325.3 857.5 325.7 860.2C326.0 862.8 326.3 865.4 326.6 868.1C326.9 870.7 327.4 874.7 327.6 876.0" fill="none" stroke="#fbe0d6" stroke-width="0.75"/>
<path d="M295.0 782.8C296.5 783.2 301.1 784.3 304.1 784.9C307.2 785.4 310.2 786.0 313.3 786.1C316.3 786.3 319.5 786.0 322.6 785.8C325.7 785.7 328.7 785.7 331.8 785.3C334.9 785.0 338.0 784.4 341.0 783.9C344.1 783.4 347.2 782.8 350.2 782.4C353.3 782.0 356.4 781.7 359.6 781.3C362.7 780.9 365.8 780.5 368.9 780.1C372.0 779.7 375.1 779.4 378.2 779.1C381.3 778.9 384.5 778.8 387.6 778.6C390.7 778.4 395.4 778.1 397.0 778.0" fill="none" stroke="#fbe4dc" stroke-width="0.8"/>
<path d="M295.0 783.7C296.5 784.1 301.0 785.5 304.0 786.2C307.0 786.9 310.0 787.7 313.0 788.1C316.0 788.5 319.2 788.4 322.3 788.5C325.3 788.6 328.4 788.8 331.5 788.7C334.6 788.6 337.7 788.1 340.7 787.8C343.8 787.5 346.9 787.2 350.0 786.9C353.1 786.6 356.3 786.4 359.4 786.1C362.5 785.8 365.6 785.5 368.7 785.3C371.9 785.0 375.0 784.7 378.1 784.5C381.3 784.3 384.4 784.2 387.6 784.0C390.7 783.8 395.4 783.6 397.0 783.5" fill="none" stroke="#eeb09d" stroke-width="0.8"/>
<path d="M295.0 784.5C296.5 785.0 300.9 786.6 303.9 787.5C306.8 788.4 309.7 789.5 312.7 790.1C315.8 790.7 318.9 790.8 322.0 791.1C325.0 791.4 328.1 791.9 331.1 792.0C334.2 792.1 337.4 791.8 340.5 791.7C343.6 791.6 346.7 791.5 349.8 791.4C352.9 791.3 356.1 791.1 359.2 790.9C362.3 790.8 365.5 790.6 368.6 790.4C371.8 790.2 374.9 790.0 378.1 789.8C381.2 789.7 384.4 789.6 387.5 789.4C390.7 789.3 395.4 789.1 397.0 789.0" fill="none" stroke="#fbe4dc" stroke-width="0.8"/>
<path d="M295.0 785.3C296.5 785.9 300.8 787.7 303.7 788.8C306.6 790.0 309.5 791.2 312.5 792.0C315.5 792.8 318.6 793.2 321.6 793.7C324.7 794.3 327.7 795.0 330.8 795.4C333.9 795.7 337.1 795.5 340.2 795.6C343.3 795.7 346.4 795.9 349.6 795.9C352.7 795.9 355.9 795.8 359.0 795.7C362.2 795.7 365.3 795.6 368.5 795.5C371.7 795.4 374.8 795.3 378.0 795.2C381.1 795.1 384.3 795.0 387.5 794.8C390.7 794.7 395.4 794.6 397.0 794.5" fill="none" stroke="#eeb09d" stroke-width="0.8"/>
<path d="M295.0 786.2C296.4 786.8 300.7 788.9 303.6 790.2C306.5 791.5 309.3 793.0 312.2 794.0C315.2 795.0 318.3 795.6 321.3 796.4C324.4 797.2 327.4 798.2 330.5 798.7C333.6 799.2 336.8 799.2 339.9 799.5C343.0 799.8 346.2 800.2 349.3 800.4C352.5 800.5 355.7 800.5 358.8 800.6C362.0 800.6 365.2 800.7 368.4 800.7C371.5 800.7 374.7 800.6 377.9 800.5C381.1 800.5 384.3 800.4 387.5 800.3C390.6 800.2 395.4 800.0 397.0 800.0" fill="none" stroke="#fbe4dc" stroke-width="0.8"/>
<path d="M295.0 779.6C296.6 780.0 301.2 781.4 304.3 781.9C307.4 782.3 310.6 782.5 313.8 782.3C316.9 782.0 320.0 781.0 323.0 780.2C326.1 779.4 329.0 778.4 331.9 777.3C334.9 776.2 337.7 774.8 340.7 773.8C343.7 772.7 346.7 771.8 349.8 771.0C352.9 770.2 356.0 769.4 359.1 768.7C362.2 768.0 365.3 767.4 368.4 766.8C371.6 766.3 374.7 765.9 377.9 765.6C381.1 765.2 384.3 765.0 387.4 764.8C390.6 764.6 395.4 764.4 397.0 764.3" fill="none" stroke="#f7cdbf" stroke-width="0.7"/>
<path d="M295.0 780.4C296.6 780.8 301.2 782.0 304.3 782.5C307.4 782.9 310.6 783.1 313.7 782.9C316.8 782.7 319.9 781.9 323.0 781.3C326.0 780.6 329.0 779.9 332.0 779.0C335.0 778.1 337.9 776.9 340.9 776.0C343.9 775.0 347.0 774.2 350.0 773.5C353.1 772.7 356.2 772.1 359.3 771.5C362.4 770.8 365.5 770.2 368.6 769.7C371.8 769.2 374.9 768.8 378.0 768.5C381.2 768.2 384.4 768.0 387.5 767.8C390.7 767.6 395.4 767.3 397.0 767.2" fill="none" stroke="#f7cdbf" stroke-width="0.7"/>
<path d="M295.0 781.3C296.6 781.6 301.2 782.7 304.3 783.1C307.4 783.4 310.5 783.7 313.6 783.6C316.7 783.5 319.8 782.8 322.9 782.3C326.0 781.8 329.1 781.3 332.1 780.6C335.1 779.9 338.1 778.9 341.1 778.1C344.2 777.4 347.2 776.6 350.3 775.9C353.3 775.2 356.4 774.7 359.5 774.2C362.6 773.6 365.7 773.1 368.8 772.6C371.9 772.1 375.0 771.7 378.2 771.4C381.3 771.1 384.4 770.9 387.6 770.7C390.7 770.5 395.4 770.2 397.0 770.1" fill="none" stroke="#f7cdbf" stroke-width="0.7"/>
<path d="M295 782 C297.5 782.4 304.2 784.4 310.0 784.5C315.8 784.6 323.3 783.6 330.0 782.5C336.7 781.4 342.5 779.4 350.0 778.0C357.5 776.6 367.2 774.9 375.0 774.0C382.8 773.1 393.3 772.8 397.0 772.5" fill="none" stroke="#fbe2d9" stroke-width="1"/>
<path d="M295.1 777 C296.4 777.5 300.1 779.3 303.0 779.9C305.9 780.5 308.6 781.4 312.4 780.8C316.1 780.2 320.8 778.4 325.5 776.1C330.2 773.8 335.5 769.2 340.5 766.8C345.5 764.2 350.5 762.7 355.5 761.1C360.5 759.5 365.5 758.3 370.5 757.4C375.5 756.5 381.1 756.2 385.5 755.9C389.9 755.6 395.1 755.6 397.0 755.5" fill="none" stroke="#d98b76" stroke-width="0.8"/></g>
<g clip-path="url(#ucr)" opacity="0.09"><g transform="translate(794 0) scale(-1 1)"><path d="M295.1 777 C296.4 777.5 300.1 779.3 303.0 779.9C305.9 780.5 308.6 781.4 312.4 780.8C316.1 780.2 320.8 778.4 325.5 776.1C330.2 773.8 335.5 769.2 340.5 766.8C345.5 764.2 350.5 762.7 355.5 761.1C360.5 759.5 365.5 758.3 370.5 757.4C375.5 756.5 381.1 756.2 385.5 755.9C389.9 755.6 395.1 755.6 397.0 755.5 L397 876 L322.7 876 C322.4 872.7 321.3 862.2 320.8 856.2C320.3 850.2 320.1 844.9 319.5 840.0C318.9 835.1 318.1 830.2 317.4 826.9C316.6 823.6 316.2 822.5 315.0 820.0C313.8 817.5 312.0 814.3 310.0 812.0C308.0 809.7 305.5 807.9 303.0 806.0C300.5 804.1 296.3 801.5 295.0 800.6 L295.1 777 Z" fill="#f2b6a2"/>
<path d="M295 782 C297.5 782.4 304.2 784.4 310.0 784.5C315.8 784.6 323.3 783.6 330.0 782.5C336.7 781.4 342.5 779.4 350.0 778.0C357.5 776.6 367.2 774.9 375.0 774.0C382.8 773.1 393.3 772.8 397.0 772.5 L397 805.5 C392.8 805.6 379.8 806.1 372.0 806.0C364.2 805.9 357.0 805.7 350.0 805.0C343.0 804.3 336.3 803.5 330.0 802.0C323.7 800.5 317.8 798.5 312.0 796.0C306.2 793.5 297.8 788.5 295.0 787.0 Z" fill="#f6cabb"/>
<path d="M295 787 C297.8 788.5 306.2 793.5 312.0 796.0C317.8 798.5 323.7 800.5 330.0 802.0C336.3 803.5 343.0 804.3 350.0 805.0C357.0 805.7 364.2 805.9 372.0 806.0C379.8 806.1 392.8 805.6 397.0 805.5 L397 876 L366.75 876 C365.8 872.7 362.7 861.4 361.1 856.2C359.5 851.1 358.9 848.4 357.0 845.0C355.1 841.6 353.0 838.6 350.0 835.6C347.0 832.6 342.8 829.9 339.2 827.0C335.6 824.1 331.9 820.6 328.3 818.0C324.7 815.4 321.0 813.9 317.4 811.6C313.8 809.3 310.1 806.4 306.4 804.0C302.7 801.6 296.9 798.4 295.0 797.3 L295 787 Z" fill="#e8806b"/>
<path d="M318 804 C335 808 360 811 397 811 L397 876 L366.75 876 C365 866 363 858 361 852 C357 840 352 830 344 823 C337 816 328 810 318 804 Z" fill="#e5725c"/>
<path d="M352 808 C366 814 377 822 384 832 C389 841 392 855 393 876" fill="none" stroke="#ec8b75" stroke-width="5" opacity="0.55"/>
<path d="M295 797.3 C296.9 798.4 302.7 801.6 306.4 804.0C310.1 806.4 313.8 809.3 317.4 811.6C321.0 813.9 324.7 815.4 328.3 818.0C331.9 820.6 335.6 824.1 339.2 827.0C342.8 829.9 347.0 832.6 350.0 835.6C353.0 838.6 355.1 841.6 357.0 845.0C358.9 848.4 359.5 851.1 361.1 856.2C362.7 861.4 365.8 872.7 366.8 876.0 L322.7 876 C322.4 872.7 321.3 862.2 320.8 856.2C320.3 850.2 320.1 844.9 319.5 840.0C318.9 835.1 318.1 830.2 317.4 826.9C316.6 823.6 316.2 822.5 315.0 820.0C313.8 817.5 312.0 814.3 310.0 812.0C308.0 809.7 305.5 807.9 303.0 806.0C300.5 804.1 296.3 801.5 295.0 800.6 Z" fill="#f2b5a1"/>
<path d="M295.0 797.7C296.4 798.5 300.7 801.0 303.5 802.7C306.2 804.5 308.9 806.4 311.7 808.2C314.4 810.0 317.0 811.9 319.7 813.8C322.4 815.6 325.3 817.2 327.8 819.2C330.3 821.2 332.6 823.6 335.0 825.8C337.3 828.0 339.8 830.0 342.1 832.3C344.4 834.5 346.7 836.8 348.6 839.3C350.5 841.9 352.2 844.7 353.6 847.7C354.9 850.6 355.8 853.8 356.7 857.0C357.7 860.1 358.4 863.3 359.3 866.5C360.1 869.7 361.4 874.4 361.9 876.0" fill="none" stroke="#fbe0d6" stroke-width="0.75"/>
<path d="M295.0 798.0C296.4 798.9 300.5 801.3 303.2 803.0C305.9 804.7 308.5 806.6 311.1 808.4C313.7 810.2 316.3 812.1 318.8 814.0C321.3 815.9 324.0 817.6 326.3 819.6C328.6 821.7 330.7 824.1 332.8 826.3C335.0 828.5 337.2 830.6 339.2 832.9C341.3 835.2 343.3 837.5 345.0 840.1C346.7 842.6 348.3 845.4 349.5 848.3C350.7 851.2 351.4 854.4 352.3 857.4C353.2 860.5 353.9 863.6 354.6 866.7C355.4 869.8 356.6 874.5 357.0 876.0" fill="none" stroke="#fbe0d6" stroke-width="0.75"/>
<path d="M295.0 798.4C296.3 799.2 300.4 801.6 303.0 803.3C305.6 805.0 308.1 806.8 310.6 808.6C313.1 810.4 315.5 812.3 317.9 814.2C320.2 816.1 322.7 817.9 324.8 820.0C326.9 822.1 328.8 824.5 330.7 826.8C332.6 829.1 334.6 831.3 336.4 833.6C338.2 835.9 340.0 838.2 341.5 840.8C342.9 843.4 344.3 846.1 345.3 849.0C346.4 851.8 347.1 854.9 347.9 857.9C348.6 860.9 349.3 863.9 350.0 866.9C350.7 870.0 351.7 874.5 352.1 876.0" fill="none" stroke="#fbe0d6" stroke-width="0.75"/>
<path d="M295.0 798.8C296.3 799.6 300.2 801.9 302.7 803.5C305.2 805.2 307.7 807.0 310.1 808.8C312.4 810.6 314.7 812.5 316.9 814.5C319.2 816.4 321.4 818.3 323.3 820.4C325.3 822.6 326.9 825.0 328.6 827.3C330.3 829.6 331.9 831.9 333.5 834.2C335.0 836.6 336.6 839.0 337.9 841.5C339.2 844.1 340.3 846.8 341.2 849.6C342.1 852.4 342.7 855.4 343.4 858.3C344.1 861.3 344.7 864.2 345.3 867.2C345.9 870.1 346.9 874.5 347.2 876.0" fill="none" stroke="#fbe0d6" stroke-width="0.75"/>
<path d="M295.0 799.1C296.2 799.9 300.0 802.2 302.4 803.8C304.9 805.5 307.3 807.2 309.5 809.0C311.8 810.8 314.0 812.7 316.0 814.7C318.1 816.7 320.1 818.7 321.8 820.8C323.6 823.0 325.0 825.5 326.4 827.8C327.9 830.2 329.3 832.5 330.6 834.9C331.9 837.3 333.2 839.7 334.3 842.3C335.4 844.8 336.3 847.5 337.1 850.3C337.8 853.0 338.4 855.9 339.0 858.8C339.6 861.6 340.1 864.5 340.6 867.4C341.2 870.3 342.0 874.6 342.3 876.0" fill="none" stroke="#fbe0d6" stroke-width="0.75"/>
<path d="M295.0 799.5C296.2 800.3 299.8 802.5 302.2 804.1C304.5 805.7 306.9 807.4 309.0 809.2C311.2 811.0 313.2 812.9 315.1 814.9C317.0 817.0 318.8 819.0 320.3 821.2C321.9 823.5 323.1 826.0 324.3 828.4C325.5 830.7 326.7 833.1 327.7 835.6C328.8 838.0 329.8 840.4 330.7 843.0C331.6 845.6 332.3 848.2 332.9 850.9C333.6 853.7 334.0 856.5 334.5 859.3C335.0 862.0 335.5 864.8 336.0 867.6C336.4 870.4 337.1 874.6 337.4 876.0" fill="none" stroke="#fbe0d6" stroke-width="0.75"/>
<path d="M295.0 799.9C296.2 800.6 299.7 802.8 301.9 804.4C304.2 806.0 306.4 807.6 308.5 809.4C310.5 811.2 312.4 813.1 314.2 815.2C315.9 817.2 317.5 819.4 318.8 821.7C320.2 823.9 321.1 826.4 322.2 828.9C323.2 831.3 324.0 833.7 324.9 836.2C325.7 838.7 326.4 841.2 327.1 843.7C327.8 846.3 328.3 848.9 328.8 851.6C329.3 854.3 329.7 857.0 330.1 859.7C330.5 862.4 330.9 865.1 331.3 867.9C331.7 870.6 332.3 874.6 332.5 876.0" fill="none" stroke="#fbe0d6" stroke-width="0.75"/>
<path d="M295.0 800.2C296.1 801.0 299.5 803.1 301.7 804.6C303.8 806.2 306.0 807.8 307.9 809.6C309.9 811.4 311.7 813.3 313.2 815.4C314.8 817.5 316.2 819.7 317.3 822.1C318.5 824.4 319.2 826.9 320.0 829.4C320.8 831.9 321.4 834.4 322.0 836.9C322.6 839.4 323.1 841.9 323.5 844.5C324.0 847.0 324.3 849.6 324.7 852.3C325.0 854.9 325.3 857.5 325.7 860.2C326.0 862.8 326.3 865.4 326.6 868.1C326.9 870.7 327.4 874.7 327.6 876.0" fill="none" stroke="#fbe0d6" stroke-width="0.75"/>
<path d="M295.0 782.8C296.5 783.2 301.1 784.3 304.1 784.9C307.2 785.4 310.2 786.0 313.3 786.1C316.3 786.3 319.5 786.0 322.6 785.8C325.7 785.7 328.7 785.7 331.8 785.3C334.9 785.0 338.0 784.4 341.0 783.9C344.1 783.4 347.2 782.8 350.2 782.4C353.3 782.0 356.4 781.7 359.6 781.3C362.7 780.9 365.8 780.5 368.9 780.1C372.0 779.7 375.1 779.4 378.2 779.1C381.3 778.9 384.5 778.8 387.6 778.6C390.7 778.4 395.4 778.1 397.0 778.0" fill="none" stroke="#fbe4dc" stroke-width="0.8"/>
<path d="M295.0 783.7C296.5 784.1 301.0 785.5 304.0 786.2C307.0 786.9 310.0 787.7 313.0 788.1C316.0 788.5 319.2 788.4 322.3 788.5C325.3 788.6 328.4 788.8 331.5 788.7C334.6 788.6 337.7 788.1 340.7 787.8C343.8 787.5 346.9 787.2 350.0 786.9C353.1 786.6 356.3 786.4 359.4 786.1C362.5 785.8 365.6 785.5 368.7 785.3C371.9 785.0 375.0 784.7 378.1 784.5C381.3 784.3 384.4 784.2 387.6 784.0C390.7 783.8 395.4 783.6 397.0 783.5" fill="none" stroke="#eeb09d" stroke-width="0.8"/>
<path d="M295.0 784.5C296.5 785.0 300.9 786.6 303.9 787.5C306.8 788.4 309.7 789.5 312.7 790.1C315.8 790.7 318.9 790.8 322.0 791.1C325.0 791.4 328.1 791.9 331.1 792.0C334.2 792.1 337.4 791.8 340.5 791.7C343.6 791.6 346.7 791.5 349.8 791.4C352.9 791.3 356.1 791.1 359.2 790.9C362.3 790.8 365.5 790.6 368.6 790.4C371.8 790.2 374.9 790.0 378.1 789.8C381.2 789.7 384.4 789.6 387.5 789.4C390.7 789.3 395.4 789.1 397.0 789.0" fill="none" stroke="#fbe4dc" stroke-width="0.8"/>
<path d="M295.0 785.3C296.5 785.9 300.8 787.7 303.7 788.8C306.6 790.0 309.5 791.2 312.5 792.0C315.5 792.8 318.6 793.2 321.6 793.7C324.7 794.3 327.7 795.0 330.8 795.4C333.9 795.7 337.1 795.5 340.2 795.6C343.3 795.7 346.4 795.9 349.6 795.9C352.7 795.9 355.9 795.8 359.0 795.7C362.2 795.7 365.3 795.6 368.5 795.5C371.7 795.4 374.8 795.3 378.0 795.2C381.1 795.1 384.3 795.0 387.5 794.8C390.7 794.7 395.4 794.6 397.0 794.5" fill="none" stroke="#eeb09d" stroke-width="0.8"/>
<path d="M295.0 786.2C296.4 786.8 300.7 788.9 303.6 790.2C306.5 791.5 309.3 793.0 312.2 794.0C315.2 795.0 318.3 795.6 321.3 796.4C324.4 797.2 327.4 798.2 330.5 798.7C333.6 799.2 336.8 799.2 339.9 799.5C343.0 799.8 346.2 800.2 349.3 800.4C352.5 800.5 355.7 800.5 358.8 800.6C362.0 800.6 365.2 800.7 368.4 800.7C371.5 800.7 374.7 800.6 377.9 800.5C381.1 800.5 384.3 800.4 387.5 800.3C390.6 800.2 395.4 800.0 397.0 800.0" fill="none" stroke="#fbe4dc" stroke-width="0.8"/>
<path d="M295.0 779.6C296.6 780.0 301.2 781.4 304.3 781.9C307.4 782.3 310.6 782.5 313.8 782.3C316.9 782.0 320.0 781.0 323.0 780.2C326.1 779.4 329.0 778.4 331.9 777.3C334.9 776.2 337.7 774.8 340.7 773.8C343.7 772.7 346.7 771.8 349.8 771.0C352.9 770.2 356.0 769.4 359.1 768.7C362.2 768.0 365.3 767.4 368.4 766.8C371.6 766.3 374.7 765.9 377.9 765.6C381.1 765.2 384.3 765.0 387.4 764.8C390.6 764.6 395.4 764.4 397.0 764.3" fill="none" stroke="#f7cdbf" stroke-width="0.7"/>
<path d="M295.0 780.4C296.6 780.8 301.2 782.0 304.3 782.5C307.4 782.9 310.6 783.1 313.7 782.9C316.8 782.7 319.9 781.9 323.0 781.3C326.0 780.6 329.0 779.9 332.0 779.0C335.0 778.1 337.9 776.9 340.9 776.0C343.9 775.0 347.0 774.2 350.0 773.5C353.1 772.7 356.2 772.1 359.3 771.5C362.4 770.8 365.5 770.2 368.6 769.7C371.8 769.2 374.9 768.8 378.0 768.5C381.2 768.2 384.4 768.0 387.5 767.8C390.7 767.6 395.4 767.3 397.0 767.2" fill="none" stroke="#f7cdbf" stroke-width="0.7"/>
<path d="M295.0 781.3C296.6 781.6 301.2 782.7 304.3 783.1C307.4 783.4 310.5 783.7 313.6 783.6C316.7 783.5 319.8 782.8 322.9 782.3C326.0 781.8 329.1 781.3 332.1 780.6C335.1 779.9 338.1 778.9 341.1 778.1C344.2 777.4 347.2 776.6 350.3 775.9C353.3 775.2 356.4 774.7 359.5 774.2C362.6 773.6 365.7 773.1 368.8 772.6C371.9 772.1 375.0 771.7 378.2 771.4C381.3 771.1 384.4 770.9 387.6 770.7C390.7 770.5 395.4 770.2 397.0 770.1" fill="none" stroke="#f7cdbf" stroke-width="0.7"/>
<path d="M295 782 C297.5 782.4 304.2 784.4 310.0 784.5C315.8 784.6 323.3 783.6 330.0 782.5C336.7 781.4 342.5 779.4 350.0 778.0C357.5 776.6 367.2 774.9 375.0 774.0C382.8 773.1 393.3 772.8 397.0 772.5" fill="none" stroke="#fbe2d9" stroke-width="1"/>
<path d="M295.1 777 C296.4 777.5 300.1 779.3 303.0 779.9C305.9 780.5 308.6 781.4 312.4 780.8C316.1 780.2 320.8 778.4 325.5 776.1C330.2 773.8 335.5 769.2 340.5 766.8C345.5 764.2 350.5 762.7 355.5 761.1C360.5 759.5 365.5 758.3 370.5 757.4C375.5 756.5 381.1 756.2 385.5 755.9C389.9 755.6 395.1 755.6 397.0 755.5" fill="none" stroke="#d98b76" stroke-width="0.8"/></g><path d="M488 782 C495 776 505 770 513 768 C518 772 518 790 505 803 L490 806 Z" fill="#f2b5a1"/></g>
<path d="M390 834 L537.5 801.2 C540 801 540.6 807.8 538.6 808.3 L391 842 Z" fill="#b4d6d8" stroke="#5e8e92" stroke-width="0.9"/>
<path d="M411 829.5 L440.5 823 L442 831 L412.5 837.5 Z" fill="#98b3b6"/>
<path d="M391 836.5 L538 803.5" stroke="#e4f4f4" stroke-width="1.3"/>
<path d="M390 834 L391 842" stroke="#3a4444" stroke-width="1.2"/>
<circle cx="359.8" cy="845" r="3.6" fill="#f3e6f3" stroke="#b597c4" stroke-width="1"/>
<circle cx="359.8" cy="845" r="1.4" fill="#d6bde0"/>
<path d="M389 837.5 L370 842" stroke="#111" stroke-width="1.6"/>
<path d="M372 838L364 843.5L373.5 845.5Z" fill="#111"/>
<path d="M362.5 846.6 L441.4 863.8" stroke="#111" stroke-width="1.3"/>
</g>

<!-- FRAMES -->
<g fill="none" stroke="#111" stroke-width="2">
<path d="M10 193H354.5V15"/>
<path d="M371 15V193H630"/>
<path d="M181 483V367H463.5V483M180.0 482.8H189.9M194.9 482.8H204.2M208.0 482.8H215.5M221.0 482.8H228.0M233.0 482.8H244.2M251.8 482.8H265.6M268.8 482.8H275.0M278.0 482.8H280.6M283.8 482.8H300.6M305.0 482.8H323.8M328.0 482.8H339.4M343.8 482.8H354.4M358.8 482.8H363.0M366.9 482.8H372.5M376.2 482.8H386.2M390.0 482.8H407.5M409.8 482.8H412.0M414.8 482.8H416.4M418.6 482.8H423.5M425.7 482.8H431.7M435.0 482.8H464.5"/>
<rect x="83" y="546" width="470" height="144.5"/>
<rect x="352.5" y="562.5" width="187.5" height="114.5"/>
<path d="M83 875V745.5H553V875"/>
</g>

<!-- GRAY ARROWS -->
<g fill="#d0d0d2" stroke="#6b6b6b" stroke-width="1.6" stroke-linejoin="miter">
<path d="M154.3 207.4L161.4 218L174 211.5L158.1 248.7L118.2 243.8L130.2 236.6L124.2 225Z"/>
<path d="M488.4 207.4L481.3 218.6L468.75 211.5L484.6 248.7L524.8 244L513 236.6L519.6 225.4Z"/>
<path d="M427.7 132.3H448.1V126.3L461.8 139.4L448.1 152.7V146.4H427.7Z"/>
<path d="M302.5 496.3H338.5V509.8H352.3L320 534L287.8 509.8H302.5Z"/>
<path d="M302.5 699.4H338.5V712.5H352.5L320 737L287.5 712.5H302.5Z"/>
</g>

<!-- TEXT -->
<g>
<circle cx="209.9" cy="36" r="10.4" fill="none" stroke="#111" stroke-width="1.6"/>
<text x="209.9" y="39.6" text-anchor="middle" class="num">1a</text>
<text x="227.6" y="40.5">Eggs are collected</text>
<text x="227.6" y="54">after ovulation or</text>
<text x="227.6" y="67.5">directly from the</text>
<text x="227.6" y="81">follicles. Sperm</text>
<text x="227.6" y="94.5">are collected and</text>
<text x="227.6" y="108">concentrated.</text>

<text x="298.1" y="137.2">Catheter</text>
<text x="54.1" y="155.9">Egg (oocyte)</text>

<circle cx="525.5" cy="36" r="10.4" fill="none" stroke="#111" stroke-width="1.6"/>
<text x="525.5" y="39.5" text-anchor="middle" class="num">1b</text>
<text x="542.9" y="40.4">Sperm sample</text>
<text x="542.9" y="53.9">is collected and</text>
<text x="542.9" y="67.4">concentrated</text>
<text x="542.9" y="80.9">by removing</text>
<text x="542.9" y="94.4">seminal fluid.</text>

<circle cx="313.2" cy="399.8" r="10.4" fill="none" stroke="#111" stroke-width="1.6"/>
<text x="313.2" y="403.8" text-anchor="middle" class="num">2</text>
<text x="331.2" y="404.3">Both the collected</text>
<text x="331.2" y="417.7">egg(s) and the sperm</text>
<text x="331.2" y="431.1">sample are mixed in a</text>
<text x="331.2" y="444.5">petri dish, allowing</text>
<text x="331.2" y="458">fertilization to occur.</text>

<circle cx="108.1" cy="593.1" r="10.4" fill="none" stroke="#111" stroke-width="1.6"/>
<text x="108.1" y="597.1" text-anchor="middle" class="num">3</text>
<text x="126.5" y="597.6">The fertilized</text>
<text x="126.5" y="611.2">zygote is then</text>
<text x="126.5" y="624.8">removed from</text>
<text x="126.5" y="638.4">the petri dish for</text>
<text x="126.5" y="652.0">implantation.</text>

<text x="373.1" y="654.7">Fertilized</text>
<text x="373.1" y="667.8">zygote</text>

<circle cx="107.8" cy="806.6" r="10.4" fill="none" stroke="#111" stroke-width="1.6"/>
<text x="107.8" y="810.4" text-anchor="middle" class="num">4</text>
<text x="125.2" y="810.1">The zygote is then surgically</text>
<text x="125.2" y="823.55">implanted into the endometrium</text>
<text x="125.2" y="837.0">of the uterus. After successful</text>
<text x="125.2" y="850.45">implantation, the zygote should</text>
<text x="125.2" y="863.9">develop normally, as if it had been</text>
<text x="125.2" y="877.35">fertilized in the female's oviducts.</text>

<text x="446.8" y="868.7">Implanted zygote</text>
</g>
<!-- bottom white strip -->
<rect x="0" y="875" width="640" height="6" fill="#fff"/>
</svg>
</body></html>
